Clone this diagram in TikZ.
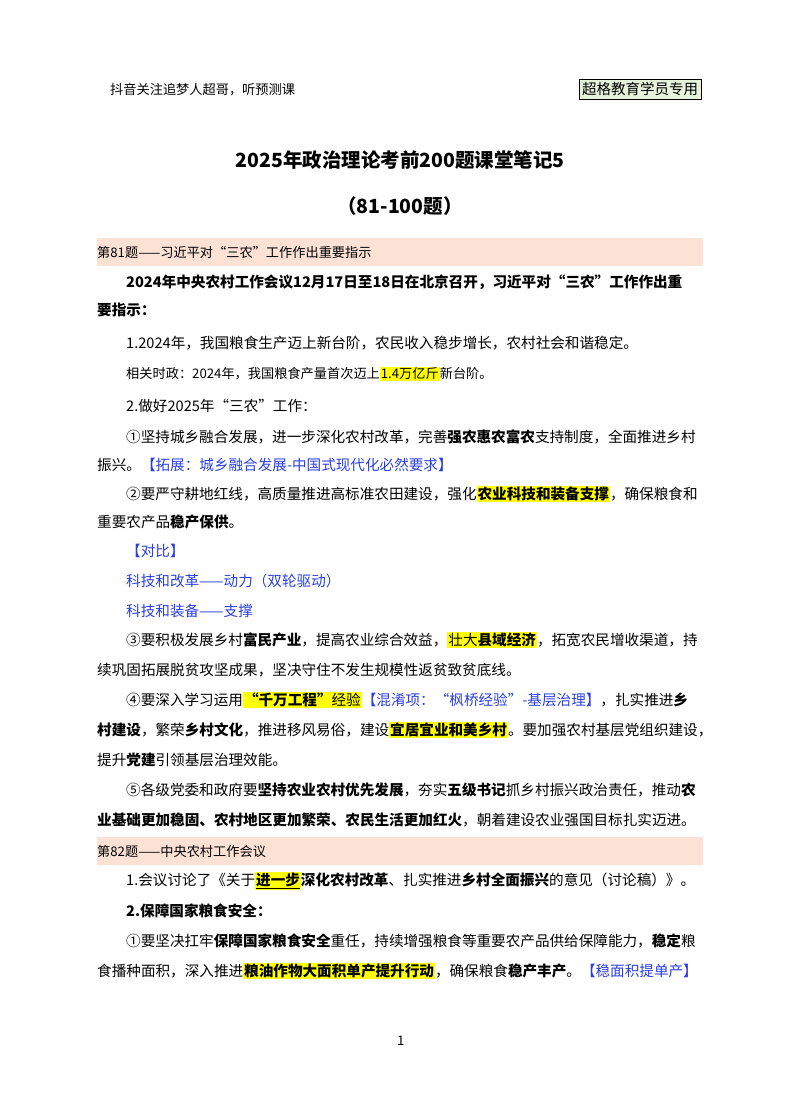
\documentclass[tikz,border=0pt]{standalone}
\usepackage{fontspec}
\usepackage{xcolor}
\setmainfont{Noto Sans CJK SC}
\definecolor{bar}{HTML}{FBE2D4}
\definecolor{bl}{HTML}{2B3FE0}
\definecolor{hy}{HTML}{FFFF00}
\definecolor{gbox}{HTML}{E6F2DC}
\newcommand{\hlt}[1]{{\setlength{\fboxsep}{1pt}\colorbox{hy}{#1}}}
\newcommand{\bb}[1]{{\bfseries #1}}
\newcommand{\blu}[1]{{\color{bl}#1}}
\tikzset{ln/.style={anchor=west,inner sep=0pt,font=\fontsize{14.6}{16}\selectfont},
 sm/.style={anchor=west,inner sep=0pt,font=\fontsize{13.2}{15}\selectfont},
 barbox/.style={fill=bar,draw=none,minimum width=606pt,minimum height=28pt,inner sep=0pt,anchor=center}}
\begin{document}
\begin{tikzpicture}[x=1pt,y=-1pt]
\useasboundingbox (0,0) rectangle (800,1114);
\node[sm] (h1) at (110,90) {抖音关注追梦人超哥，听预测课};
\node[draw=black,fill=gbox,inner sep=3pt,font=\fontsize{14.5}{16}\selectfont] (h2) at (640,89) {超格教育学员专用};
\node[font=\fontsize{19.5}{22}\selectfont\bfseries] (t1) at (400,160) {2025年政治理论考前200题课堂笔记5};
\node[font=\fontsize{19.5}{22}\selectfont\bfseries] (t2) at (400,206) {（81-100题）};
\node[barbox] (b1) at (400,252) {};
\node[sm] (b1t) at (97,252) {第81题——习近平对“三农”工作作出重要指示};
\node[ln] (l1) at (126,282) {\bb{2024年中央农村工作会议12月17日至18日在北京召开，习近平对“三农”工作作出重}};
\node[ln] (l2) at (97,310) {\bb{要指示：}};
\node[ln] (l3) at (126,343) {1.2024年，我国粮食生产迈上新台阶，农民收入稳步增长，农村社会和谐稳定。};
\node[sm] (l4) at (126,374) {相关时政：2024年，我国粮食产量首次迈上\hlt{1.4万亿斤}新台阶。};
\node[ln] (l5) at (126,406) {2.做好2025年“三农”工作：};
\node[ln] (l6) at (126,437) {①坚持城乡融合发展，进一步深化农村改革，完善\bb{强农惠农富农}支持制度，全面推进乡村};
\node[ln] (l7) at (97,465) {振兴。\blu{【拓展：城乡融合发展-中国式现代化必然要求】}};
\node[ln] (l8) at (126,494) {②要严守耕地红线，高质量推进高标准农田建设，强化\hlt{\bb{农业科技和装备支撑}}，确保粮食和};
\node[ln] (l9) at (97,522) {重要农产品\bb{稳产保供}。};
\node[ln] (l10) at (126,551) {\blu{【对比】}};
\node[ln] (l11) at (126,581) {\blu{科技和改革——动力（双轮驱动）}};
\node[ln] (l12) at (126,611) {\blu{科技和装备——支撑}};
\node[ln] (l13) at (126,640) {③要积极发展乡村\bb{富民产业}，提高农业综合效益，\hlt{壮大\bb{县域经济}}，拓宽农民增收渠道，持};
\node[ln] (l14) at (97,670) {续巩固拓展脱贫攻坚成果，坚决守住不发生规模性返贫致贫底线。};
\node[ln] (l15) at (126,700) {④要深入学习运用\hlt{\bb{“千万工程”}经验}\blu{【混淆项：“枫桥经验”-基层治理】}，扎实推进\bb{乡}};
\node[ln] (l16) at (97,730) {\bb{村建设}，繁荣\bb{乡村文化}，推进移风易俗，建设\hlt{\bb{宜居宜业和美乡村}}。要加强农村基层党组织建设，};
\node[ln] (l17) at (97,760) {提升\bb{党建}引领基层治理效能。};
\node[ln] (l18) at (126,790) {⑤各级党委和政府要\bb{坚持农业农村优先发展}，夯实\bb{五级书记}抓乡村振兴政治责任，推动\bb{农}};
\node[ln] (l19) at (97,820) {\bb{业基础更加稳固、农村地区更加繁荣、农民生活更加红火}，朝着建设农业强国目标扎实迈进。};
\node[barbox] (b2) at (400,851) {};
\node[sm] (b2t) at (97,851) {第82题——中央农村工作会议};
\node[ln] (l20) at (126,881) {1.会议讨论了《关于\hlt{\underline{\bb{进一步}}}\bb{深化农村改革}、扎实推进\bb{乡村全面振兴}的意见（讨论稿）》。};
\node[ln] (l21) at (126,911) {\bb{2.保障国家粮食安全：}};
\node[ln] (l22) at (126,941) {①要坚决扛牢\bb{保障国家粮食安全}重任，持续增强粮食等重要农产品供给保障能力，\bb{稳定}粮};
\node[ln] (l23) at (97,971) {食播种面积，深入推进\hlt{\bb{粮油作物大面积单产提升行动}}，确保粮食\bb{稳产丰产}。\blu{【稳面积提单产】}};
\node[sm] (pg) at (397,1041) {1};
\end{tikzpicture}
\end{document}
